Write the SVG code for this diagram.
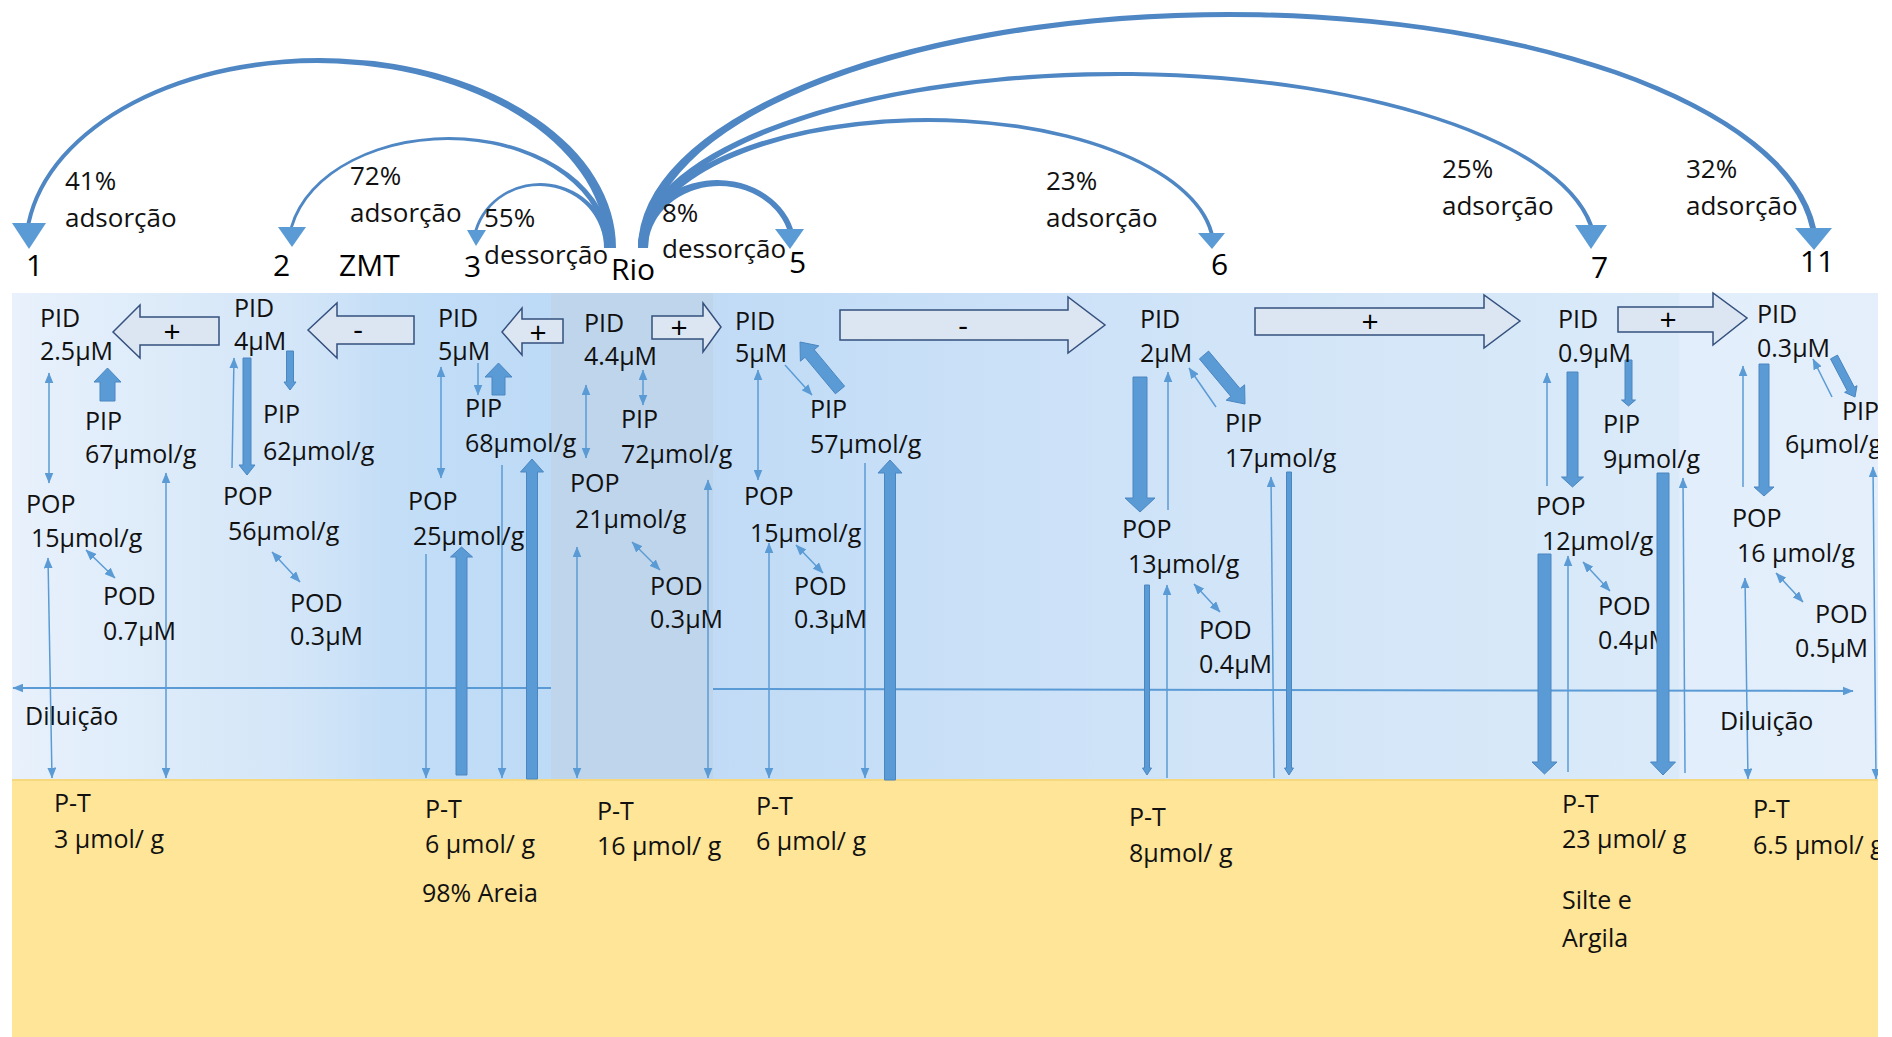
<svg xmlns="http://www.w3.org/2000/svg" width="1892" height="1037" viewBox="0 0 1892 1037">
  <defs>
    <style>
      .t { font-family: "Open Sans", "Noto Sans", "Liberation Sans", sans-serif; font-size: 25px; fill: #111; }
      .tl { font-family: "Open Sans", "Noto Sans", "Liberation Sans", sans-serif; font-size: 26px; fill: #111; }
      .tn { font-family: "Open Sans", "Noto Sans", "Liberation Sans", sans-serif; font-size: 30px; fill: #000; }
      .sg { font-family: "Open Sans", "Noto Sans", "Liberation Sans", sans-serif; font-size: 30px; fill: #000; text-anchor: middle; }
      .thin { stroke: #5B9BD5; stroke-width: 1.5; fill: none; }
      .dil { stroke: #5B9BD5; stroke-width: 2; fill: none; }
      .blk { fill: #5B9BD5; stroke: #4A86C2; stroke-width: 1; }
      .arc { fill: #4F87C4; }
      .head { fill: #5B9BD5; }
      .big { fill: #DCE6F2; stroke: #34507E; stroke-width: 1.5; }
    </style>
    <marker id="ah" viewBox="0 0 10 10" refX="9.5" refY="5" markerWidth="11" markerHeight="9" markerUnits="userSpaceOnUse" orient="auto-start-reverse" preserveAspectRatio="none">
      <path d="M0,0 L10,5 L0,10 z" fill="#5B9BD5"/>
    </marker>
    <linearGradient id="water" gradientUnits="userSpaceOnUse" x1="12" y1="0" x2="1878" y2="0">
      <stop offset="0" stop-color="#E8F1FC"/>
      <stop offset="0.08" stop-color="#DDEBF9"/>
      <stop offset="0.16" stop-color="#D2E5F8"/>
      <stop offset="0.2" stop-color="#C4DEF7"/>
      <stop offset="0.287" stop-color="#BDDAF6"/>
      <stop offset="0.376" stop-color="#C1DBF6"/>
      <stop offset="0.48" stop-color="#C7DFF7"/>
      <stop offset="0.6" stop-color="#CFE3F8"/>
      <stop offset="0.75" stop-color="#D5E7F8"/>
      <stop offset="0.893" stop-color="#DAEAF9"/>
      <stop offset="0.894" stop-color="#E2EEFB"/>
      <stop offset="1" stop-color="#E4EFFB"/>
    </linearGradient>
    <clipPath id="frame">
      <rect x="0" y="0" width="1878" height="1037"/>
    </clipPath>
  </defs>

  <rect x="0" y="0" width="1892" height="1037" fill="#FFFFFF"/>

  <g clip-path="url(#frame)">
    <!-- water column and sediment -->
    <g id="background">
      <rect x="12" y="293" width="1866" height="487" fill="url(#water)"/>
      <rect x="551" y="293" width="162" height="487" fill="#BED5EB"/>
      <rect x="12" y="780" width="1866" height="257" fill="#FFE597"/>
      <line x1="12" y1="780" x2="1878" y2="780" stroke="#F6D97E" stroke-width="2"/>
    </g>

    <!-- station labels along the top -->
    <g id="stations">
      <text class="tn" x="26" y="276">1</text>
      <text class="tn" x="273" y="276">2</text>
      <text class="tn" x="339" y="276">ZMT</text>
      <text class="tn" x="464" y="277">3</text>
      <text class="tn" x="611" y="280">Rio</text>
      <text class="tn" x="789" y="273">5</text>
      <text class="tn" x="1211" y="275">6</text>
      <text class="tn" x="1591" y="278">7</text>
      <text class="tn" x="1800" y="272">11</text>
    </g>

    <!-- transport arcs from the river mouth (tapered bands between two ellipses) -->
    <g id="arcs">
      <path class="arc" d="M616,248 A296,190 0 0 0 26.57,223 L30.65,223 A289,185 0 0 1 606,248 Z"/>
      <polygon class="head" points="12,223 46,223 29,249"/>
      <path class="arc" d="M611,248 A161.96,111 0 0 0 290,227 L293.01,227 A157.5,108 0 0 1 605,248 Z"/>
      <polygon class="head" points="278,227 306,227 292,247"/>
      <path class="arc" d="M609,248 A68.59,65 0 0 0 474.5,230 L477.5,230 A64.64,62 0 0 1 604,248 Z"/>
      <polygon class="head" points="467,230 486,230 476,246"/>

      <path class="arc" d="M638,248 A79.07,68 0 0 1 792.99,229 L786.99,229 A71.21,62 0 0 0 648,248 Z"/>
      <polygon class="head" points="775,229 804,229 790,249"/>
      <path class="arc" d="M638,248 A288.71,130 0 0 1 1213.49,233 L1209.49,233 A282.25,126 0 0 0 647,248 Z"/>
      <polygon class="head" points="1198,233 1225,233 1212,249"/>
      <path class="arc" d="M638,248 A479.55,176 0 0 1 1592.99,225 L1588.49,225 A472.87,172 0 0 0 647,248 Z"/>
      <polygon class="head" points="1575,225 1607,225 1591,249"/>
      <path class="arc" d="M638,248 A590.06,236 0 0 1 1816,228 L1810,228 A582.09,231 0 0 0 648,248 Z"/>
      <polygon class="head" points="1795,228 1832,228 1814,250"/>
    </g>

    <g id="arc-labels">
      <text class="tl" x="65" y="190">41%</text>
      <text class="tl" x="65" y="227">adsorção</text>
      <text class="tl" x="350" y="185">72%</text>
      <text class="tl" x="350" y="222">adsorção</text>
      <text class="tl" x="484" y="227">55%</text>
      <text class="tl" x="484" y="264">dessorção</text>
      <text class="tl" x="662" y="222">8%</text>
      <text class="tl" x="662" y="258">dessorção</text>
      <text class="tl" x="1046" y="190">23%</text>
      <text class="tl" x="1046" y="227">adsorção</text>
      <text class="tl" x="1442" y="178">25%</text>
      <text class="tl" x="1442" y="215">adsorção</text>
      <text class="tl" x="1686" y="178">32%</text>
      <text class="tl" x="1686" y="215">adsorção</text>
    </g>

    <!-- PID gradient arrows between stations -->
    <g id="gradients">
      <g id="g-1-2">
        <polygon class="big" points="113,332 140,305 140,317 219,317 219,345 140,345 140,358"/>
        <text class="sg" x="172" y="342">+</text>
      </g>
      <g id="g-2-3">
        <polygon class="big" points="308,330 337,303 337,316 414,316 414,344 337,344 337,358"/>
        <text class="sg" x="358" y="340">-</text>
      </g>
      <g id="g-3-rio">
        <polygon class="big" points="502,332 522,308 522,319 563,319 563,343 522,343 522,355"/>
        <text class="sg" x="538" y="343">+</text>
      </g>
      <g id="g-rio-5">
        <polygon class="big" points="652,316 703,316 703,303 721,327 703,352 703,339 652,339"/>
        <text class="sg" x="679" y="338">+</text>
      </g>
      <g id="g-5-6">
        <polygon class="big" points="840,310 1068,310 1068,297 1105,325 1068,353 1068,340 840,340"/>
        <text class="sg" x="963" y="336">-</text>
      </g>
      <g id="g-6-7">
        <polygon class="big" points="1255,308 1484,308 1484,295 1520,321 1484,348 1484,335 1255,335"/>
        <text class="sg" x="1370" y="332">+</text>
      </g>
      <g id="g-7-11">
        <polygon class="big" points="1618,307 1713,307 1713,293 1747,318 1713,345 1713,332 1618,332"/>
        <text class="sg" x="1668" y="330">+</text>
      </g>
    </g>

    <!-- fluxes between pools -->
    <g id="connectors">
      <!-- dilution -->
      <line class="dil" x1="551" y1="688" x2="13" y2="688" marker-end="url(#ah)"/>
      <line class="dil" x1="713" y1="689" x2="1853" y2="691" marker-end="url(#ah)"/>

      <!-- station 1 -->
      <line class="thin" x1="49" y1="373" x2="49" y2="483" marker-start="url(#ah)" marker-end="url(#ah)"/>
      <line class="thin" x1="48" y1="558" x2="52" y2="778" marker-start="url(#ah)" marker-end="url(#ah)"/>
      <line class="thin" x1="166" y1="473" x2="166" y2="778" marker-start="url(#ah)" marker-end="url(#ah)"/>
      <line class="thin" x1="86" y1="550" x2="115" y2="578" marker-start="url(#ah)" marker-end="url(#ah)"/>
      <polygon class="blk" points="100,401 115,401 115,382 121,382 107.5,368 94,382 100,382"/>

      <!-- station 2 -->
      <line class="thin" x1="232" y1="468" x2="234" y2="358" marker-end="url(#ah)"/>
      <polygon class="blk" points="243,358 251,358 251,465 255,465 247,475 239,465 243,465"/>
      <polygon class="blk" points="286.5,351 293.5,351 293.5,382 296,382 290,390 284,382 286.5,382"/>
      <line class="thin" x1="272" y1="552" x2="300" y2="582" marker-start="url(#ah)" marker-end="url(#ah)"/>

      <!-- station 3 -->
      <line class="thin" x1="478" y1="363" x2="478" y2="395" marker-end="url(#ah)"/>
      <polygon class="blk" points="492,395 505,395 505,377 512,377 498.5,363 485,377 492,377"/>
      <line class="thin" x1="441" y1="367" x2="441" y2="478" marker-start="url(#ah)" marker-end="url(#ah)"/>
      <line class="thin" x1="426" y1="554" x2="426" y2="778" marker-end="url(#ah)"/>
      <polygon class="blk" points="456,775 467,775 467,557 472.5,557 461.5,547 450.5,557 456,557"/>
      <line class="thin" x1="502" y1="465" x2="502" y2="778" marker-end="url(#ah)"/>
      <polygon class="blk" points="526.5,779 537.5,779 537.5,472 543.5,472 532,459 520.5,472 526.5,472"/>

      <!-- river mouth -->
      <line class="thin" x1="643" y1="370" x2="643" y2="405" marker-start="url(#ah)" marker-end="url(#ah)"/>
      <line class="thin" x1="586" y1="385" x2="586" y2="458" marker-start="url(#ah)" marker-end="url(#ah)"/>
      <line class="thin" x1="632" y1="542" x2="660" y2="570" marker-start="url(#ah)" marker-end="url(#ah)"/>
      <line class="thin" x1="577" y1="547" x2="577" y2="778" marker-start="url(#ah)" marker-end="url(#ah)"/>
      <line class="thin" x1="708" y1="480" x2="708" y2="778" marker-start="url(#ah)" marker-end="url(#ah)"/>

      <!-- station 5 -->
      <polygon class="blk" points="844.6,386.2 814.2,349.7 818.8,345.8 800,342 800.4,361.2 805,357.3 835.4,393.8"/>
      <line class="thin" x1="785" y1="365" x2="812" y2="395" marker-end="url(#ah)"/>
      <line class="thin" x1="758" y1="370" x2="758" y2="480" marker-start="url(#ah)" marker-end="url(#ah)"/>
      <line class="thin" x1="796" y1="545" x2="823" y2="573" marker-start="url(#ah)" marker-end="url(#ah)"/>
      <line class="thin" x1="769" y1="543" x2="769" y2="778" marker-start="url(#ah)" marker-end="url(#ah)"/>
      <line class="thin" x1="865" y1="463" x2="865" y2="778" marker-end="url(#ah)"/>
      <polygon class="blk" points="884.5,780 895.5,780 895.5,473 902,473 890,460 878,473 884.5,473"/>

      <!-- station 6 -->
      <polygon class="blk" points="1133,377 1147,377 1147,498 1155,498 1140,512 1125,498 1133,498"/>
      <line class="thin" x1="1168" y1="510" x2="1168" y2="372" marker-end="url(#ah)"/>
      <line class="thin" x1="1216" y1="407" x2="1189" y2="368" marker-end="url(#ah)"/>
      <polygon class="blk" points="1208.6,351.1 1240,388.6 1244.6,384.8 1245,404 1226.2,400.2 1230.8,396.4 1199.4,358.9"/>
      <polygon class="blk" points="1144.5,585 1149.5,585 1149.5,768 1151.5,768 1147,775 1142.5,768 1144.5,768"/>
      <line class="thin" x1="1167" y1="778" x2="1167" y2="585" marker-end="url(#ah)"/>
      <line class="thin" x1="1194" y1="584" x2="1220" y2="612" marker-start="url(#ah)" marker-end="url(#ah)"/>
      <line class="thin" x1="1274" y1="778" x2="1271" y2="477" marker-end="url(#ah)"/>
      <polygon class="blk" points="1286.5,472 1291.5,472 1291.5,768 1293.5,768 1289,775 1284.5,768 1286.5,768"/>

      <!-- station 7 -->
      <line class="thin" x1="1547" y1="486" x2="1547" y2="373" marker-end="url(#ah)"/>
      <polygon class="blk" points="1567,372 1578,372 1578,477 1583.5,477 1572.5,487 1561.5,477 1567,477"/>
      <polygon class="blk" points="1625,360 1632,360 1632,400 1635.5,400 1628.5,406 1621.5,400 1625,400"/>
      <line class="thin" x1="1568" y1="772" x2="1568" y2="556" marker-end="url(#ah)"/>
      <line class="thin" x1="1583" y1="562" x2="1610" y2="591" marker-start="url(#ah)" marker-end="url(#ah)"/>
      <line class="thin" x1="1685" y1="773" x2="1683" y2="478" marker-end="url(#ah)"/>

      <!-- station 11 -->
      <line class="thin" x1="1743" y1="487" x2="1743" y2="366" marker-end="url(#ah)"/>
      <polygon class="blk" points="1759,364 1769,364 1769,487 1774,487 1764,496 1754,487 1759,487"/>
      <line class="thin" x1="1832" y1="397" x2="1813" y2="359" marker-end="url(#ah)"/>
      <polygon class="blk" points="1837.5,355.1 1854.3,387.1 1857,385.7 1855,397 1844.6,392.3 1847.3,390.9 1830.5,358.9"/>
      <line class="thin" x1="1776" y1="573" x2="1803" y2="602" marker-start="url(#ah)" marker-end="url(#ah)"/>
      <line class="thin" x1="1745" y1="578" x2="1748" y2="779" marker-start="url(#ah)" marker-end="url(#ah)"/>
      <line class="thin" x1="1873" y1="467" x2="1876" y2="779" marker-start="url(#ah)" marker-end="url(#ah)"/>
    </g>

    <!-- pools: station 1 -->
    <g id="s1-pid"><text class="t" x="40" y="327">PID</text><text class="t" x="40" y="360">2.5μM</text></g>
    <g id="s1-pip"><text class="t" x="85" y="430">PIP</text><text class="t" x="85" y="463">67μmol/g</text></g>
    <g id="s1-pop"><text class="t" x="26" y="513">POP</text><text class="t" x="31" y="547">15μmol/g</text></g>
    <g id="s1-pod"><text class="t" x="103" y="605">POD</text><text class="t" x="103" y="640">0.7μM</text></g>
    <g id="s1-pt"><text class="t" x="54" y="812">P-T</text><text class="t" x="54" y="848">3 μmol/ g</text></g>

    <!-- pools: station 2 -->
    <g id="s2-pid"><text class="t" x="234" y="317">PID</text><text class="t" x="234" y="350">4μM</text></g>
    <g id="s2-pip"><text class="t" x="263" y="423">PIP</text><text class="t" x="263" y="460">62μmol/g</text></g>
    <g id="s2-pop"><text class="t" x="223" y="505">POP</text><text class="t" x="228" y="540">56μmol/g</text></g>
    <g id="s2-pod"><text class="t" x="290" y="612">POD</text><text class="t" x="290" y="645">0.3μM</text></g>

    <!-- pools: station 3 -->
    <g id="s3-pid"><text class="t" x="438" y="327">PID</text><text class="t" x="438" y="360">5μM</text></g>
    <g id="s3-pip"><text class="t" x="465" y="417">PIP</text><text class="t" x="465" y="452">68μmol/g</text></g>
    <g id="s3-pop"><text class="t" x="408" y="510">POP</text><text class="t" x="413" y="545">25μmol/g</text></g>
    <g id="s3-pt"><text class="t" x="425" y="818">P-T</text><text class="t" x="425" y="853">6 μmol/ g</text><text class="t" x="422" y="902">98% Areia</text></g>

    <!-- pools: river mouth -->
    <g id="rio-pid"><text class="t" x="584" y="332">PID</text><text class="t" x="584" y="365">4.4μM</text></g>
    <g id="rio-pip"><text class="t" x="621" y="428">PIP</text><text class="t" x="621" y="463">72μmol/g</text></g>
    <g id="rio-pop"><text class="t" x="570" y="492">POP</text><text class="t" x="575" y="528">21μmol/g</text></g>
    <g id="rio-pod"><text class="t" x="650" y="595">POD</text><text class="t" x="650" y="628">0.3μM</text></g>
    <g id="rio-pt"><text class="t" x="597" y="820">P-T</text><text class="t" x="597" y="855">16 μmol/ g</text></g>

    <!-- pools: station 5 -->
    <g id="s5-pid"><text class="t" x="735" y="330">PID</text><text class="t" x="735" y="362">5μM</text></g>
    <g id="s5-pip"><text class="t" x="810" y="418">PIP</text><text class="t" x="810" y="453">57μmol/g</text></g>
    <g id="s5-pop"><text class="t" x="744" y="505">POP</text><text class="t" x="750" y="542">15μmol/g</text></g>
    <g id="s5-pod"><text class="t" x="794" y="595">POD</text><text class="t" x="794" y="628">0.3μM</text></g>
    <g id="s5-pt"><text class="t" x="756" y="815">P-T</text><text class="t" x="756" y="850">6 μmol/ g</text></g>

    <!-- pools: station 6 -->
    <g id="s6-pid"><text class="t" x="1140" y="328">PID</text><text class="t" x="1140" y="362">2μM</text></g>
    <g id="s6-pip"><text class="t" x="1225" y="432">PIP</text><text class="t" x="1225" y="467">17μmol/g</text></g>
    <g id="s6-pop"><text class="t" x="1122" y="538">POP</text><text class="t" x="1128" y="573">13μmol/g</text></g>
    <g id="s6-pod"><text class="t" x="1199" y="639">POD</text><text class="t" x="1199" y="673">0.4μM</text></g>
    <g id="s6-pt"><text class="t" x="1129" y="826">P-T</text><text class="t" x="1129" y="862">8μmol/ g</text></g>

    <!-- pools: station 7 -->
    <g id="s7-pid"><text class="t" x="1558" y="328">PID</text><text class="t" x="1558" y="362">0.9μM</text></g>
    <g id="s7-pip"><text class="t" x="1603" y="433">PIP</text><text class="t" x="1603" y="468">9μmol/g</text></g>
    <g id="s7-pop"><text class="t" x="1536" y="515">POP</text><text class="t" x="1542" y="550">12μmol/g</text></g>
    <g id="s7-pod"><text class="t" x="1598" y="615">POD</text><text class="t" x="1598" y="649">0.4μM</text></g>
    <g id="s7-pt"><text class="t" x="1562" y="813">P-T</text><text class="t" x="1562" y="848">23 μmol/ g</text><text class="t" x="1562" y="909">Silte e</text><text class="t" x="1562" y="947">Argila</text></g>

    <!-- pools: station 11 -->
    <g id="s11-pid"><text class="t" x="1757" y="323">PID</text><text class="t" x="1757" y="357">0.3μM</text></g>
    <g id="s11-pip"><text class="t" x="1842" y="420">PIP</text><text class="t" x="1785" y="453">6μmol/g</text></g>
    <g id="s11-pop"><text class="t" x="1732" y="527">POP</text><text class="t" x="1737" y="562">16 μmol/g</text></g>
    <g id="s11-pod"><text class="t" x="1815" y="623">POD</text><text class="t" x="1795" y="657">0.5μM</text></g>
    <g id="s11-pt"><text class="t" x="1753" y="818">P-T</text><text class="t" x="1753" y="854">6.5 μmol/ g</text></g>

    <!-- dilution labels -->
    <g id="dilution-labels">
      <text class="t" x="25" y="725">Diluição</text>
      <text class="t" x="1720" y="730">Diluição</text>
    </g>

    <!-- thick sediment fluxes at station 7 drawn over the POD label -->
    <g id="s7-sed-fluxes">
      <polygon class="blk" points="1538,554 1551,554 1551,762 1557,762 1544.5,774 1532,762 1538,762"/>
      <polygon class="blk" points="1657,473 1669,473 1669,762 1675.5,762 1663,775 1650.5,762 1657,762"/>
    </g>
  </g>
</svg>
